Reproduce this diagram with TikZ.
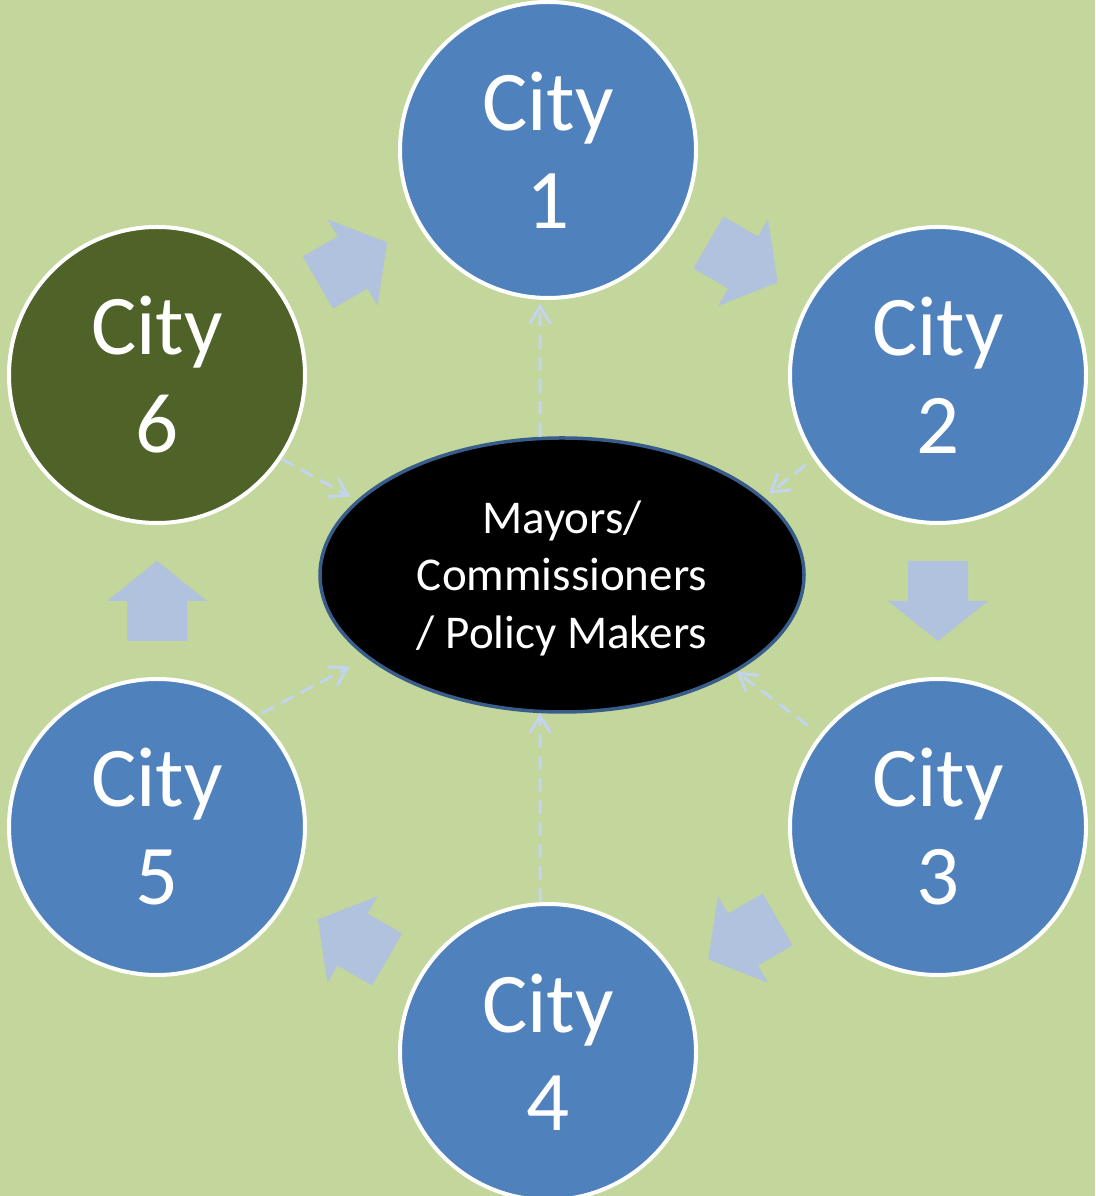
\documentclass[tikz,border=0pt]{standalone}
\usepackage{fontspec}
\setmainfont{Carlito}
\usetikzlibrary{arrows.meta,shapes.geometric,calc}
\definecolor{bg}{HTML}{C3D69B}
\definecolor{cityblue}{HTML}{4F81BD}
\definecolor{cityolive}{HTML}{4F6228}
\definecolor{blockarr}{HTML}{B0C2DD}
\definecolor{dashcol}{HTML}{C3D4EE}
\definecolor{ellborder}{HTML}{385D8A}
\tikzset{
  city/.style={circle, draw=white, line width=4pt, fill=cityblue, minimum size=296pt,
    inner sep=0pt, text=white, align=center, font=\fontsize{85}{98}\selectfont},
  hub/.style={ellipse, draw=ellborder, line width=3.5pt, fill=black, minimum width=484pt,
    minimum height=274pt, inner sep=0pt, text=white, align=center,
    font=\fontsize{47}{57.5}\selectfont},
  link/.style={draw=dashcol, line width=3pt, dash pattern=on 14pt off 8pt,
    -{Straight Barb[length=17pt,width=21pt]}},
  barrow/.pic={\fill[blockarr] (-40pt,-30pt) -- (0pt,-30pt) -- (0pt,-50pt) -- (40pt,0pt)
    -- (0pt,50pt) -- (0pt,30pt) -- (-40pt,30pt) -- cycle;}
}
\begin{document}
\begin{tikzpicture}[x=1pt,y=1pt]
\fill[bg] (0,0) rectangle (1095,1196);
\useasboundingbox (0,0) rectangle (1095,1196);

\node[city] (c1) at (548,1046) {City\\1};
\node[city] (c2) at (938,821) {City\\2};
\node[city] (c3) at (938,369) {City\\3};
\node[city] (c4) at (548,144) {City\\4};
\node[city] (c5) at (157,369) {City\\5};
\node[city, fill=cityolive] (c6) at (157,821) {City\\6};

\node[hub] (hub) at (562,621) {\raisebox{-3pt}[\height][\depth]{\parbox{300pt}{\centering Mayors/\\Commissioners\\/ Policy Makers}}};

% block arrows between consecutive cities
\path ($(c1)!0.5!(c2)$) pic[rotate=-30] {barrow};
\path ($(c2)!0.5!(c3)$) pic[rotate=-90] {barrow};
\path ($(c3)!0.5!(c4)$) pic[rotate=-150] {barrow};
\path ($(c4)!0.5!(c5)$) pic[rotate=150] {barrow};
\path ($(c5)!0.5!(c6)$) pic[rotate=90] {barrow};
\path ($(c6)!0.5!(c1)$) pic[rotate=30] {barrow};

% dashed links
\draw[link, shorten >=4pt] (hub.99) -- (c1.267);
\draw[link, shorten <=10pt, shorten >=6pt] (c2.214) -- (hub.21);
\draw[link, shorten <=15pt] (c3.142) -- (hub.331);
\draw[link] (c4.93) -- (hub.261);
\draw[link, shorten <=5pt, shorten >=19pt] (c5.48) -- (hub.203);
\draw[link, shorten >=7pt] (c6.326) -- (hub.160);
\end{tikzpicture}
\end{document}
